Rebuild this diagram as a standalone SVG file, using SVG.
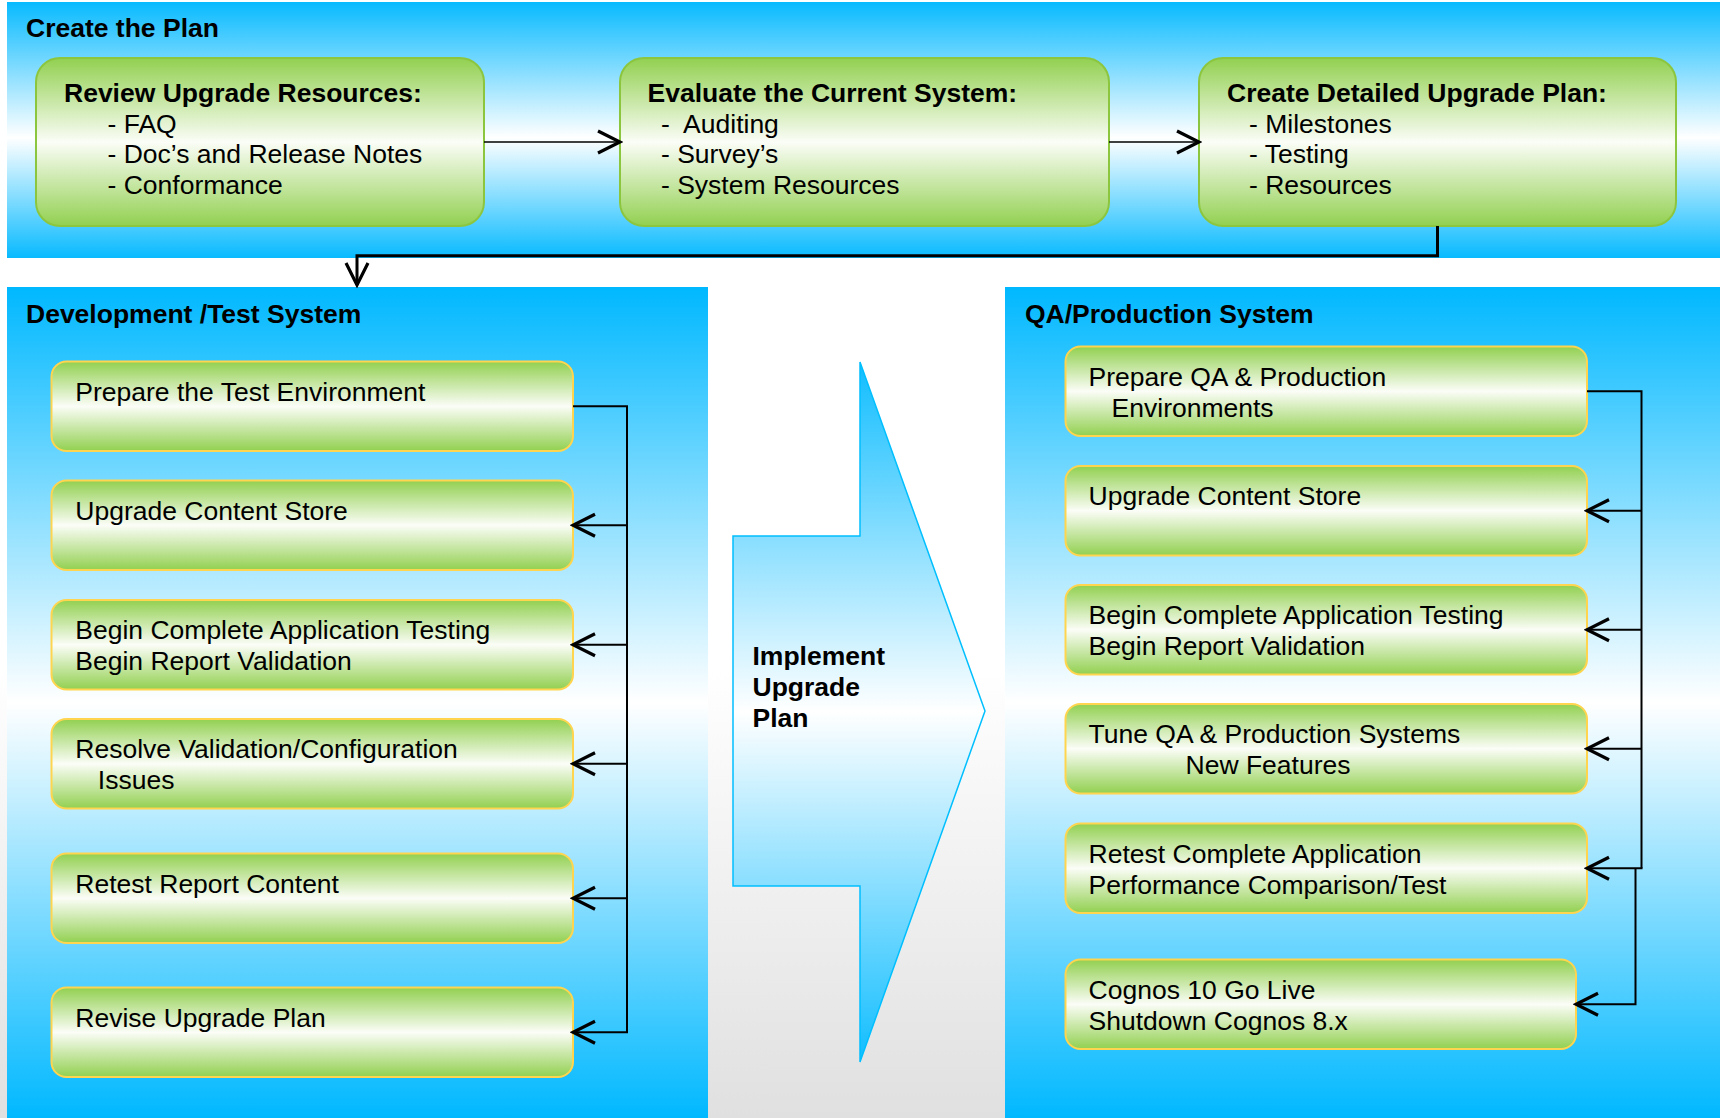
<svg xmlns="http://www.w3.org/2000/svg" width="1720" height="1118" viewBox="0 0 1720 1118">
<defs>
  <linearGradient id="bg" x1="0" y1="0" x2="0" y2="1118" gradientUnits="userSpaceOnUse">
    <stop offset="0.6" stop-color="#ffffff"/><stop offset="1" stop-color="#e0e0e0"/>
  </linearGradient>
  <linearGradient id="topPanel" x1="0" y1="2" x2="0" y2="258" gradientUnits="userSpaceOnUse">
    <stop offset="0" stop-color="#08BAFF"/><stop offset="0.53" stop-color="#ffffff"/><stop offset="1" stop-color="#08BAFF"/>
  </linearGradient>
  <linearGradient id="lowPanel" x1="0" y1="287" x2="0" y2="1118" gradientUnits="userSpaceOnUse">
    <stop offset="0" stop-color="#00B8FF"/><stop offset="0.5" stop-color="#ffffff"/><stop offset="1" stop-color="#00B8FF"/>
  </linearGradient>
  <linearGradient id="green" x1="0" y1="0" x2="0" y2="1">
    <stop offset="0" stop-color="#92D050"/><stop offset="0.5" stop-color="#FBFDF7"/><stop offset="1" stop-color="#92D050"/>
  </linearGradient>
  <linearGradient id="arrowFill" x1="0" y1="0" x2="0" y2="1">
    <stop offset="0" stop-color="#10BDFF"/><stop offset="0.5" stop-color="#ffffff"/><stop offset="1" stop-color="#10BDFF"/>
  </linearGradient>
  <marker id="ah" viewBox="0 0 26 26" refX="23" refY="13" markerWidth="26" markerHeight="26" markerUnits="userSpaceOnUse" orient="auto">
    <path d="M1,2 L23,13 L1,24" fill="none" stroke="#000" stroke-width="3.2"/>
  </marker>
  <style>
    text { font-family: "Liberation Sans", Arial, sans-serif; font-size: 26.5px; fill: #000; }
    .b { font-weight: bold; }
    .topbox { fill: url(#green); stroke: #8CC63F; stroke-width: 2; }
    .box { fill: url(#green); stroke: #FFD54F; stroke-width: 2; }
    .conn { fill: none; stroke: #000; stroke-width: 2; }
    .thin { fill: none; stroke: #000; stroke-width: 1.5; }
    .thick { fill: none; stroke: #000; stroke-width: 3; }
  </style>
</defs>

<rect x="0" y="0" width="1720" height="1118" fill="url(#bg)"/>

<g id="panel-plan">
  <rect x="7" y="2" width="1713" height="256" fill="url(#topPanel)"/>
  <text class="b" x="26" y="37">Create the Plan</text>
</g>
<g id="panel-dev">
  <rect x="7" y="287" width="701" height="831" fill="url(#lowPanel)"/>
  <text class="b" x="26" y="323">Development /Test System</text>
</g>
<g id="panel-qa">
  <rect x="1005" y="287" width="715" height="831" fill="url(#lowPanel)"/>
  <text class="b" x="1025" y="323">QA/Production System</text>
</g>

<g id="implement-arrow">
  <path d="M860,362 L985,711 L860,1062 L860,886 L733,886 L733,536 L860,536 Z" fill="url(#arrowFill)" stroke="#00BFFF" stroke-width="1.5"/>
  <text class="b" x="752.5" y="665">Implement</text>
  <text class="b" x="752.5" y="696">Upgrade</text>
  <text class="b" x="752.5" y="726.5">Plan</text>
</g>

<g id="node-review">
  <rect class="topbox" x="36" y="58" width="448" height="168" rx="24" ry="24"/>
  <text class="b" x="64" y="101.5">Review Upgrade Resources:</text>
  <text x="107.5" y="132.5">- FAQ</text>
  <text x="107.5" y="163">- Doc’s and Release Notes</text>
  <text x="107.5" y="194">- Conformance</text>
</g>
<g id="node-evaluate">
  <rect class="topbox" x="620" y="58" width="489" height="168" rx="24" ry="24"/>
  <text class="b" x="647.5" y="101.5">Evaluate the Current System:</text>
  <text x="661" y="132.5" xml:space="preserve">-  Auditing</text>
  <text x="661" y="163">- Survey’s</text>
  <text x="661" y="194">- System Resources</text>
</g>
<g id="node-create">
  <rect class="topbox" x="1199" y="58" width="477" height="168" rx="24" ry="24"/>
  <text class="b" x="1227" y="101.5">Create Detailed Upgrade Plan:</text>
  <text x="1249" y="132.5">- Milestones</text>
  <text x="1249" y="163">- Testing</text>
  <text x="1249" y="194">- Resources</text>
</g>

<g id="dev-1">
  <rect class="box" x="51.5" y="361.5" width="521.5" height="89.5" rx="15" ry="15"/>
  <text x="75.3" y="400.8">Prepare the Test Environment</text>
</g>
<g id="dev-2">
  <rect class="box" x="51.5" y="480.5" width="521.5" height="89.5" rx="15" ry="15"/>
  <text x="75.3" y="519.5">Upgrade Content Store</text>
</g>
<g id="dev-3">
  <rect class="box" x="51.5" y="600" width="521.5" height="89.5" rx="15" ry="15"/>
  <text x="75.3" y="639.3">Begin Complete Application Testing</text>
  <text x="75.3" y="670">Begin Report Validation</text>
</g>
<g id="dev-4">
  <rect class="box" x="51.5" y="719" width="521.5" height="89.5" rx="15" ry="15"/>
  <text x="75.3" y="758.3">Resolve Validation/Configuration</text>
  <text x="97.8" y="789.3">Issues</text>
</g>
<g id="dev-5">
  <rect class="box" x="51.5" y="853.5" width="521.5" height="89.5" rx="15" ry="15"/>
  <text x="75.3" y="892.7">Retest Report Content</text>
</g>
<g id="dev-6">
  <rect class="box" x="51.5" y="987.5" width="521.5" height="89.5" rx="15" ry="15"/>
  <text x="75.3" y="1026.7">Revise Upgrade Plan</text>
</g>

<g id="qa-1">
  <rect class="box" x="1065.5" y="346.5" width="521.5" height="89.5" rx="15" ry="15"/>
  <text x="1088.6" y="386">Prepare QA &amp; Production</text>
  <text x="1111.6" y="416.5">Environments</text>
</g>
<g id="qa-2">
  <rect class="box" x="1065.5" y="466" width="521.5" height="89.5" rx="15" ry="15"/>
  <text x="1088.6" y="505.3">Upgrade Content Store</text>
</g>
<g id="qa-3">
  <rect class="box" x="1065.5" y="585" width="521.5" height="89.5" rx="15" ry="15"/>
  <text x="1088.6" y="624">Begin Complete Application Testing</text>
  <text x="1088.6" y="655">Begin Report Validation</text>
</g>
<g id="qa-4">
  <rect class="box" x="1065.5" y="704" width="521.5" height="89.5" rx="15" ry="15"/>
  <text x="1088.6" y="743.3">Tune QA &amp; Production Systems</text>
  <text x="1185.5" y="774">New Features</text>
</g>
<g id="qa-5">
  <rect class="box" x="1065.5" y="823.5" width="521.5" height="89.5" rx="15" ry="15"/>
  <text x="1088.6" y="863.3">Retest Complete Application</text>
  <text x="1088.6" y="894.3">Performance Comparison/Test</text>
</g>
<g id="qa-6">
  <rect class="box" x="1065.5" y="959.5" width="510.5" height="89.5" rx="15" ry="15"/>
  <text x="1088.6" y="999.3">Cognos 10 Go Live</text>
  <text x="1088.6" y="1030">Shutdown Cognos 8.x</text>
</g>

<g id="connectors">
  <path class="thin" d="M484,142 H620" marker-end="url(#ah)"/>
  <path class="thin" d="M1109,142 H1199" marker-end="url(#ah)"/>
  <path class="thick" d="M1437.5,226 V255.7 H357 V285" marker-end="url(#ah)"/>

  <path class="conn" d="M573,406.25 H627 V1032.25"/>
  <path class="conn" d="M627,525.25 H573" marker-end="url(#ah)"/>
  <path class="conn" d="M627,644.75 H573" marker-end="url(#ah)"/>
  <path class="conn" d="M627,763.75 H573" marker-end="url(#ah)"/>
  <path class="conn" d="M627,898.25 H573" marker-end="url(#ah)"/>
  <path class="conn" d="M628,1032.25 H573" marker-end="url(#ah)"/>

  <path class="conn" d="M1587,391.25 H1641.5 V868.25"/>
  <path class="conn" d="M1641.5,510.75 H1587" marker-end="url(#ah)"/>
  <path class="conn" d="M1641.5,629.75 H1587" marker-end="url(#ah)"/>
  <path class="conn" d="M1641.5,748.75 H1587" marker-end="url(#ah)"/>
  <path class="conn" d="M1642.5,868.25 H1587" marker-end="url(#ah)"/>
  <path class="conn" d="M1635.5,868.25 V1004.25 H1576" marker-end="url(#ah)"/>
</g>
</svg>
